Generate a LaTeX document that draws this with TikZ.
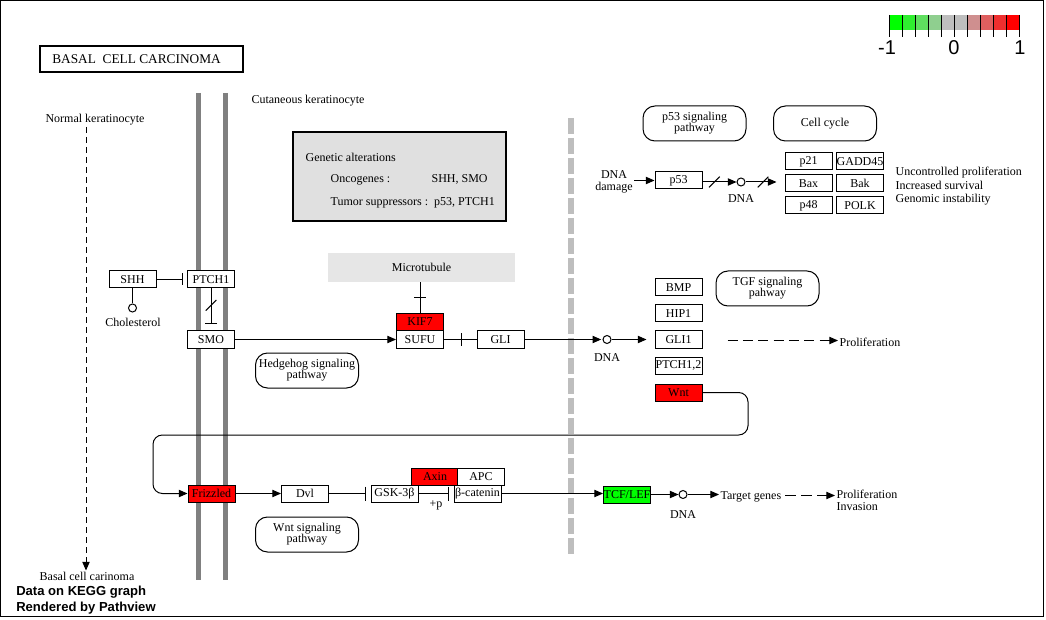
\documentclass[tikz,border=0pt]{standalone}
\usepackage{fontspec}
\setmainfont{Liberation Serif}
\newfontfamily\legendfont{Liberation Sans}
\usetikzlibrary{arrows.meta,decorations.markings,calc}

\newcommand\keggtext{\fontsize{9}{8.3}\selectfont}

\definecolor{mtgray}{RGB}{230,230,230}
\definecolor{gagray}{RGB}{224,224,224}
\definecolor{memgray}{RGB}{128,128,128}
\definecolor{nucgray}{RGB}{190,190,190}
\definecolor{upred}{RGB}{255,0,0}
\definecolor{downgreen}{RGB}{0,255,0}

\tikzset{
  every node/.style={font=\keggtext},
  gene/.style={draw, fill=white, line width=0.75pt, minimum width=35.25pt,
    minimum height=12.75pt, inner sep=0pt},
  upgene/.style={gene, fill=upred},
  downgene/.style={gene, fill=downgreen},
  mapbox/.style={draw, rounded corners=9pt, line width=0.75pt, minimum width=77.25pt,
    minimum height=26.25pt, align=center, inner sep=1pt},
  dot/.style={draw, circle, line width=0.75pt, minimum size=6pt, inner sep=0pt},
  lbl/.style={inner sep=1pt, yshift=-1pt},
  conn/.style={line width=0.75pt},
  act/.style={conn, -{Triangle[length=6.5pt,width=5.5pt]}},
  inh/.style={conn, -{Bar[width=#1]}},
  inh/.default=9pt,
  dashact/.style={act, dash pattern=on 7.5pt off 4pt},
  slash/.style={postaction={decorate, decoration={markings,
      mark=at position #1 with {\draw[-, line width=0.75pt, solid, shorten >=0pt, shorten <=0pt]
        (-4pt,-4pt) -- (4pt,4pt);}}}},
  vslash/.style={postaction={decorate, decoration={markings,
      mark=at position #1 with {\draw[-, line width=0.75pt, solid, shorten >=0pt, shorten <=0pt]
        (-4pt,4pt) -- (4pt,-4pt);}}}},
  crossbar/.style={postaction={decorate, decoration={markings,
      mark=at position #1 with {\draw[-, line width=0.75pt, solid, shorten >=0pt, shorten <=0pt]
        (0,-4.5pt) -- (0,4.5pt);}}}},
  membrane/.style={line width=3.75pt, memgray},
  nucleus/.style={line width=4.5pt, nucgray, dash pattern=on 12pt off 3pt},
}

\begin{document}
\begin{tikzpicture}[x=0.75pt, y=-0.75pt]
\useasboundingbox (0,0) rectangle (1046,620);
\draw[line width=0.75pt] (0.5,0.5) rectangle (1043.5,616.5);

% cell membranes and nuclear envelope
\draw[membrane] (198,93) -- (198,580);
\draw[membrane] (225,93) -- (225,580);
\draw[nucleus] (571,118) -- (571,556);

% title
\node[draw, line width=1.5pt, minimum width=152.25pt, minimum height=19.5pt, inner sep=0pt] (title) at (141.5,59) {};
\node[anchor=west, font=\fontsize{10}{12}\selectfont, inner sep=0pt] (titletext) at (52,59.5) {BASAL\ \ CELL CARCINOMA};

% cell labels
\node[lbl] (normal) at (95,118) {Normal keratinocyte};
\node[lbl] (basal) at (87,575) {Basal cell carinoma};
\coordinate (nstart) at (86,127);
\draw[act, dash pattern=on 4.5pt off 3pt] (nstart) -- (basal.north -| nstart);
\node[lbl] (cutaneous) at (308,99) {Cutaneous keratinocyte};

% genetic alterations
\node[draw, line width=1.5pt, fill=gagray, minimum width=159.75pt, minimum height=66.75pt, inner sep=0pt] (GA) at (399.5,176.5) {};
\node[lbl, anchor=west] (gat) at (304,156) {Genetic alterations};
\node[lbl, anchor=west] (onc) at (329,178) {Oncogenes :};
\node[lbl, anchor=west] (oncg) at (430,178) {SHH, SMO};
\node[lbl, anchor=west] (tsg) at (329,201) {Tumor suppressors :\ \ p53, PTCH1};

% pathway maps
\node[mapbox] (p53map) at (694.5,123.5) {p53 signaling\\pathway};
\node[mapbox] (ccmap) at (825,123.5) {Cell cycle};
\node[mapbox] (tgfmap) at (767.5,288.5) {TGF signaling\\pahway};
\node[mapbox] (hhmap) at (307,370.5) {Hedgehog signaling\\pathway};
\node[mapbox] (wntmap) at (307,534.5) {Wnt signaling\\pathway};

% p53 branch
\node[lbl, align=center] (dnadmg) at (614,180.5) {DNA\\damage};
\node[gene] (p53) at (678.5,180.5) {p53};
\node[dot] (dnaP) at (741,182) {};
\node[lbl] (dnaPt) at (741,197) {DNA};
\node[gene] (p21) at (808.5,161.5) {p21};
\node[gene] (GADD45) at (860,161.5) {GADD45};
\node[gene] (Bax) at (808.5,183.5) {Bax};
\node[gene] (Bak) at (860,183.5) {Bak};
\node[gene] (p48) at (808.5,205.5) {p48};
\node[gene] (POLK) at (860,205.5) {POLK};
\node[lbl, anchor=west] (unc) at (894,171) {Uncontrolled proliferation};
\node[lbl, anchor=west] (surv) at (894,184) {Increased survival};
\node[lbl, anchor=west] (gen) at (894,198) {Genomic instability};

\draw[act] (dnadmg.east |- p53) -- (p53.west);
\draw[act, slash=0.35] (p53.east |- dnaP) -- (dnaP.west);
\draw[act, slash=0.45, shorten >=6pt] (dnaP.east) -- (dnaP -| Bax.west);

% hedgehog branch
\node[gene] (SHH) at (132.5,279.5) {SHH};
\node[gene] (PTCH1) at (211,279.5) {PTCH1};
\node[gene] (SMO) at (211,339.5) {SMO};
\node[dot] (chol) at (132.5,308) {};
\node[lbl] (cholt) at (133,321) {Cholesterol};
\node[fill=mtgray, minimum width=140.25pt, minimum height=21.75pt, inner sep=0pt] (MT) at (421.5,267.5) {Microtubule};
\node[upgene] (KIF7) at (420,322) {KIF7};
\node[gene] (SUFU) at (420,339.5) {SUFU};
\node[gene] (GLI) at (500.5,339.5) {GLI};
\node[dot] (dnaG) at (607,339.5) {};
\node[lbl] (dnaGt) at (607,356) {DNA};

\node[gene] (BMP) at (678.5,287.5) {BMP};
\node[gene] (HIP1) at (678.5,313.5) {HIP1};
\node[gene] (GLI1) at (678.5,339.5) {GLI1};
\node[gene] (PTCH12) at (678.5,365.5) {PTCH1,2};
\node[upgene] (Wnt) at (678.5,392.5) {Wnt};
\node[lbl, anchor=west] (prolif) at (838,341) {Proliferation};

\draw[inh, shorten >=3pt] (SHH.east) -- (PTCH1.west);
\draw[conn] (SHH.south) -- (chol.north);
\draw[inh, vslash=0.4, shorten >=4.5pt] (PTCH1.south) -- (SMO.north);
\draw[act] (SMO.east) -- (SUFU.west);
\draw[conn, crossbar=0.5] (MT.south -| KIF7.north) -- (KIF7.north);
\draw[conn, crossbar=0.53] (SUFU.east) -- (GLI.west);
\draw[act, shorten >=1pt] (GLI.east) -- (dnaG.west);
\draw[act, shorten >=6pt] (dnaG.east) -- (GLI1.west);
\draw[dashact, shorten <=18.75pt] (GLI1.east |- 0,340.5) -- (prolif.west |- 0,340.5);

% wnt branch
\node[upgene] (Frizzled) at (211.5,493.5) {Frizzled};
\node[gene] (Dvl) at (305,493.5) {Dvl};
\node[gene] (GSK) at (394.5,493.5) {GSK-3β};
\node[upgene] (Axin) at (435,476.5) {Axin};
\node[gene] (APC) at (481,476.5) {APC};
\node[gene] (bcat) at (477.5,493.5) {β-catenin};
\node[lbl] (phos) at (436,504) {+p};
\node[downgene] (TCF) at (627,494.5) {TCF/LEF};
\node[dot] (dnaW) at (683,494.5) {};
\node[lbl] (dnaWt) at (683,513) {DNA};
\node[lbl, anchor=west] (target) at (719,496) {Target genes};
\node[lbl, anchor=west, align=left] (prolinv) at (835,499) {Proliferation\\Invasion};

\draw[act, rounded corners=7pt] (Wnt.east) -- (748,392.5) -- (748,435) -- (153,435)
  -- (153,493.5) -- (Frizzled.west);
\draw[act] (Frizzled.east) -- (Dvl.west);
\draw[inh=10.5pt, shorten >=3.75pt] (Dvl.east) -- (GSK.west);
\draw[inh=10.5pt, shorten >=3.75pt] (GSK.east) -- (bcat.west);
\draw[act] (bcat.east) -- (bcat.east -| TCF.west);
\draw[act] (TCF.east |- dnaW) -- (dnaW.west);
\draw[act] (dnaW.east) -- (dnaW -| target.west);
\draw[dashact, dash pattern=on 8pt off 4pt, shorten <=2pt] (target.east |- 0,495.5) -- (prolinv.west |- 0,495.5);

% legend
\foreach \c [count=\i from 0] in {{0,255,0},{47,239,47},{95,223,95},{143,207,143},{190,190,190},
    {190,190,190},{207,143,143},{223,95,95},{239,47,47},{255,0,0}}{
  \definecolor{legcol}{RGB}{\c}
  \fill[legcol] (889+13*\i,15) rectangle (902+13*\i,30);
}
\foreach \i in {0,...,10}{
  \draw[line width=0.75pt] (889+13*\i,15) -- (889+13*\i,37);
}
\node[font=\legendfont\fontsize{15}{18}\selectfont, inner sep=0pt] (lm1) at (887,48) {-1};
\node[font=\legendfont\fontsize{15}{18}\selectfont, inner sep=0pt] (l0) at (954,48) {0};
\node[font=\legendfont\fontsize{15}{18}\selectfont, inner sep=0pt] (lp1) at (1020,48) {1};

% footer
\node[anchor=west, font=\legendfont\bfseries\fontsize{9.8}{11.5}\selectfont, align=left, inner sep=0pt] (footer) at (16,600.5)
  {Data on KEGG graph\\[0.6pt]Rendered by Pathview};
\end{tikzpicture}
\end{document}
